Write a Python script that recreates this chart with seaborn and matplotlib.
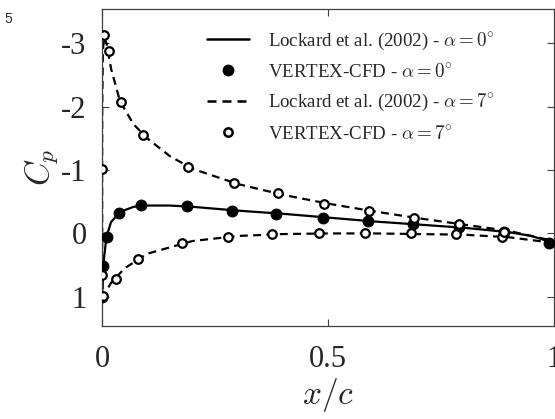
import matplotlib
matplotlib.use("Agg")
import matplotlib.pyplot as plt
from matplotlib.lines import Line2D
import seaborn as sns
import pandas as pd

# Lockard et al. (2002), alpha = 0 deg
ref0_x = [0.0, 0.002, 0.005, 0.01, 0.02, 0.04, 0.07, 0.1, 0.15, 0.2, 0.3, 0.4, 0.5, 0.6, 0.7, 0.8, 0.9, 0.95, 1.0]
ref0_cp = [1.0, 0.7, 0.35, 0.05, -0.18, -0.34, -0.42, -0.44, -0.44, -0.42, -0.36, -0.31, -0.25, -0.19, -0.14, -0.09, -0.02, 0.04, 0.15]

# VERTEX-CFD, alpha = 0 deg
cfd0_x = [0.0007, 0.003, 0.01, 0.038, 0.086, 0.187, 0.288, 0.386, 0.49, 0.589, 0.689, 0.79, 0.889, 0.99]
cfd0_cp = [1.0, 0.52, 0.06, -0.33, -0.45, -0.43, -0.36, -0.31, -0.25, -0.19, -0.15, -0.10, -0.02, 0.15]

# Lockard et al. (2002), alpha = 7 deg (lower surface TE->LE, then upper LE->TE)
ref7_x = [1.0, 0.9, 0.8, 0.7, 0.6, 0.5, 0.4, 0.3, 0.2, 0.1, 0.05, 0.02, 0.01, 0.004, 0.0015,
          0.0005, 0.0003, 0.0005, 0.002, 0.005, 0.01, 0.02, 0.04, 0.07, 0.1, 0.15, 0.2, 0.3,
          0.4, 0.5, 0.6, 0.7, 0.8, 0.9, 1.0]
ref7_cp = [0.15, 0.06, 0.02, 0.01, 0.0, 0.0, 0.01, 0.04, 0.12, 0.32, 0.55, 0.78, 0.9, 1.0, 0.95,
           0.5, -1.0, -2.0, -2.9, -3.1, -3.0, -2.6, -2.08, -1.72, -1.5, -1.22, -1.02, -0.78,
           -0.61, -0.47, -0.35, -0.24, -0.14, -0.04, 0.12]

# VERTEX-CFD, alpha = 7 deg
cfd7_x = [0.003, 0.0005, 0.032, 0.08, 0.177, 0.278, 0.377, 0.48, 0.582, 0.684, 0.783, 0.884,
          0.0005, 0.005, 0.016, 0.041, 0.091, 0.191, 0.293, 0.39, 0.492, 0.59, 0.69, 0.79, 0.889]
cfd7_cp = [0.99, 0.66, 0.72, 0.40, 0.145, 0.05, 0.01, 0.0, 0.0, 0.0, 0.01, 0.055,
           -1.01, -3.13, -2.87, -2.07, -1.56, -1.04, -0.80, -0.63, -0.47, -0.36, -0.25, -0.145, -0.03]

x_ticks = [0, 0.5, 1]
x_ticklabels = ["0", "0.5", "1"]
y_ticks = [-3, -2, -1, 0, 1]
y_ticklabels = ["-3", "-2", "-1", "0", "1"]

legend_labels = [r"Lockard et al. (2002) - $\alpha = 0^{\circ}$",
                 r"VERTEX-CFD - $\alpha = 0^{\circ}$",
                 r"Lockard et al. (2002) - $\alpha = 7^{\circ}$",
                 r"VERTEX-CFD - $\alpha = 7^{\circ}$"]

sns.set_style("ticks")
plt.rcParams["font.family"] = ["Liberation Serif", "DejaVu Serif"]
plt.rcParams["mathtext.fontset"] = "cm"

fig = plt.figure(figsize=(5.55, 4.19), dpi=100)
ax = fig.add_axes([102 / 555, (419 - 326) / 419, 452 / 555, 317 / 419])

df_r0 = pd.DataFrame({"x": ref0_x, "cp": ref0_cp})
df_c0 = pd.DataFrame({"x": cfd0_x, "cp": cfd0_cp})
df_r7 = pd.DataFrame({"x": ref7_x, "cp": ref7_cp})
df_c7 = pd.DataFrame({"x": cfd7_x, "cp": cfd7_cp})

dash = (3.6, 2.4)
sns.lineplot(data=df_r0, x="x", y="cp", sort=False, estimator=None, color="black", lw=1.6, ax=ax, zorder=2)
sns.lineplot(data=df_r7, x="x", y="cp", sort=False, estimator=None, color="black", lw=1.6, ax=ax,
             dashes=False, zorder=2)
ax.lines[-1].set_dashes(dash)
sns.scatterplot(data=df_c0, x="x", y="cp", color="black", s=60, edgecolor="black", linewidth=0.8, ax=ax, zorder=3)
sns.scatterplot(data=df_c7, x="x", y="cp", facecolor="white", s=38, edgecolor="black", linewidth=1.6, ax=ax, zorder=3)

ax.set_xlim(0, 1)
ax.set_ylim(1.46, -3.54)
ax.set_xticks(x_ticks)
ax.set_xticklabels(x_ticklabels)
ax.set_yticks(y_ticks)
ax.set_yticklabels(y_ticklabels)
ax.tick_params(direction="in", length=5, width=0.8, colors="#404040", labelcolor="#262626",
               labelsize=22, top=True, right=True)
ax.tick_params(axis="x", pad=14)
ax.tick_params(axis="y", pad=11)
for sp in ax.spines.values():
    sp.set_visible(True)
    sp.set_color("#404040")
    sp.set_linewidth(0.9)

ax.set_xlabel(r"$x/c$", fontsize=24, color="#262626", labelpad=1)
ax.set_ylabel(r"$C_p$", fontsize=24, color="#262626", labelpad=1)

handles = [
    Line2D([], [], color="black", lw=1.8),
    Line2D([], [], color="black", marker="o", ls="none", markersize=7.5),
    Line2D([], [], color="black", lw=1.8, dashes=(3.6, 2.4)),
    Line2D([], [], color="black", marker="o", ls="none", markersize=6, markerfacecolor="white", markeredgewidth=1.8),
]
leg = ax.legend(handles, legend_labels, loc="upper left", bbox_to_anchor=(198 / 555, 1 - 21 / 419),
                bbox_transform=fig.transFigure, frameon=False, fontsize=13.6, handlelength=2.2,
                handletextpad=1.0, labelspacing=0.6, borderpad=0)
for t in leg.get_texts():
    t.set_color("#262626")

fig.text(4 / 555, 1 - 19 / 419, "5", family="Liberation Sans", fontsize=10, color="#262626", va="center")

fig.savefig("out.png", dpi=100)
